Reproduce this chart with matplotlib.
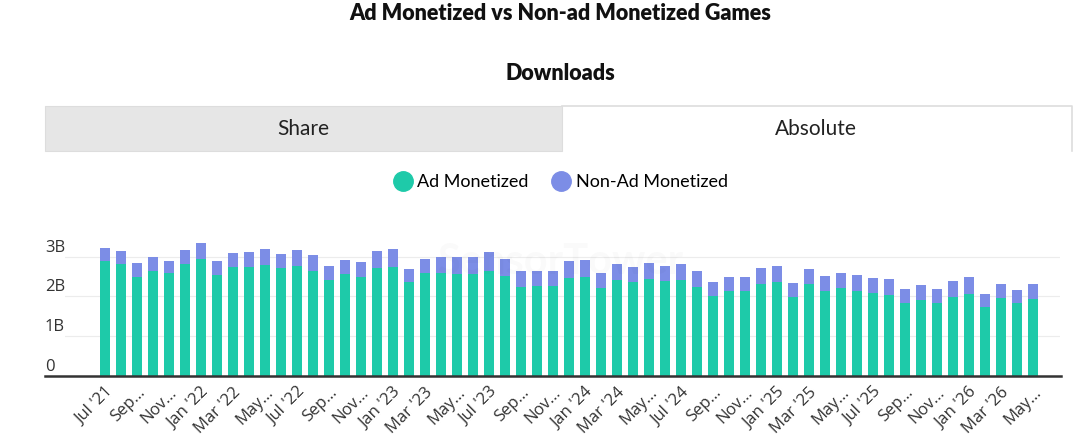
import matplotlib
matplotlib.use("Agg")
import matplotlib.pyplot as plt
from matplotlib.patches import Rectangle
from matplotlib.lines import Line2D
import numpy as np

# monthly downloads in billions, Jul '21 .. May '26
months = ["Jul '21", "Aug '21", "Sep '21", "Oct '21", "Nov '21", "Dec '21",
          "Jan '22", "Feb '22", "Mar '22", "Apr '22", "May '22", "Jun '22",
          "Jul '22", "Aug '22", "Sep '22", "Oct '22", "Nov '22", "Dec '22",
          "Jan '23", "Feb '23", "Mar '23", "Apr '23", "May '23", "Jun '23",
          "Jul '23", "Aug '23", "Sep '23", "Oct '23", "Nov '23", "Dec '23",
          "Jan '24", "Feb '24", "Mar '24", "Apr '24", "May '24", "Jun '24",
          "Jul '24", "Aug '24", "Sep '24", "Oct '24", "Nov '24", "Dec '24",
          "Jan '25", "Feb '25", "Mar '25", "Apr '25", "May '25", "Jun '25",
          "Jul '25", "Aug '25", "Sep '25", "Oct '25", "Nov '25", "Dec '25",
          "Jan '26", "Feb '26", "Mar '26", "Apr '26", "May '26"]

ad = [2.88, 2.81, 2.48, 2.65, 2.58, 2.81, 2.93, 2.53, 2.73, 2.73, 2.79, 2.71,
      2.77, 2.64, 2.40, 2.56, 2.48, 2.72, 2.73, 2.35, 2.58, 2.58, 2.56, 2.56,
      2.63, 2.52, 2.23, 2.27, 2.25, 2.46, 2.48, 2.21, 2.40, 2.35, 2.43, 2.38,
      2.42, 2.23, 2.02, 2.14, 2.14, 2.31, 2.35, 1.98, 2.31, 2.14, 2.21, 2.14,
      2.08, 2.04, 1.83, 1.92, 1.83, 1.98, 2.07, 1.73, 1.96, 1.83, 1.94]

total = [3.21, 3.14, 2.83, 3.00, 2.90, 3.17, 3.33, 2.88, 3.08, 3.12, 3.18, 3.07,
         3.17, 3.04, 2.77, 2.92, 2.86, 3.14, 3.18, 2.68, 2.93, 3.00, 2.98, 2.98,
         3.11, 2.94, 2.65, 2.65, 2.63, 2.90, 2.92, 2.60, 2.81, 2.73, 2.83, 2.77,
         2.81, 2.63, 2.36, 2.48, 2.50, 2.72, 2.77, 2.33, 2.68, 2.52, 2.60, 2.54,
         2.46, 2.43, 2.18, 2.28, 2.18, 2.38, 2.48, 2.07, 2.31, 2.15, 2.31]

non_ad = [round(t - a, 2) for t, a in zip(total, ad)]

yticks = [0, 1, 2, 3]
ytick_labels = ["0", "1B", "2B", "3B"]

green = "#1ecaa9"
purple = "#7c8de6"
W, H = 1080, 448

fig = plt.figure(figsize=(10.8, 4.48), dpi=100)
fig.patch.set_facecolor("white")

fig.text(560 / W, 1 - 14 / H, "Ad Monetized vs Non-ad Monetized Games", ha="center",
         va="center", fontsize=15.5, fontweight="heavy", family="Lato", color="#111111")
fig.text(560 / W, 1 - 74 / H, "Downloads", ha="center", va="center",
         fontsize=15.5, fontweight="heavy", family="Lato", color="#111111")

# tabs
fig.patches.append(Rectangle((45 / W, 1 - 151 / H), 517 / W, 45 / H,
                             transform=fig.transFigure, facecolor="#e6e6e6",
                             edgecolor="#dddddd", lw=0.8))
fig.add_artist(Line2D([562 / W, 1072 / W, 1072 / W], [1 - 106 / H, 1 - 106 / H, 1 - 151 / H],
                      transform=fig.transFigure, color="#dddddd", lw=1.2))
fig.text(303 / W, 1 - 129 / H, "Share", ha="center", va="center",
         fontsize=15, family="Lato", color="#222222")
fig.text(816 / W, 1 - 129 / H, "Absolute", ha="center", va="center",
         fontsize=15, family="Lato", color="#222222")

# plot area
x0, x1, ybase = 65, 1060, 376
ymax = 3.4
ppb = 39.8
ax = fig.add_axes([x0 / W, 1 - ybase / H, (x1 - x0) / W, ymax * ppb / H])
x = np.arange(len(months))
ax.bar(x, ad, width=0.62, color=green, zorder=3)
ax.bar(x, non_ad, bottom=ad, width=0.62, color=purple, zorder=3)
ax.set_xlim(-2.5, len(months) - 1 + 1.69)
ax.set_ylim(0, ymax)
for s in ax.spines.values():
    s.set_visible(False)
ax.set_yticks([])
for v in yticks[1:]:
    ax.axhline(v, color="#ececec", lw=0.8, zorder=1)
for v, lab in zip(yticks, ytick_labels):
    fig.text(45 / W, 1 - (ybase - v * ppb - 1) / H, lab, ha="left", va="bottom",
             fontsize=12, family="Open Sans", color="#333333")
fig.add_artist(Line2D([45 / W, 1061 / W], [1 - ybase / H, 1 - ybase / H],
                      transform=fig.transFigure, color="#333333", lw=1.8))

labels = []
for i, m in enumerate(months):
    mon = m.split()[0]
    if mon in ("Jan", "Mar", "Jul"):
        labels.append(m)
    else:
        labels.append(mon + "…")
ax.set_xticks(x[::2])
ax.set_xticklabels(labels[::2], rotation=45, ha="right", rotation_mode="anchor",
                   fontsize=12, family="Open Sans", color="#333333")
ax.tick_params(axis="x", length=0, pad=6)

# watermark
fig.text(560 / W, 1 - 262 / H, "SensorTower", ha="center", va="center",
         fontsize=30, color="#000000", alpha=0.02, family="Lato", fontweight="bold")

handles = [Line2D([], [], marker="o", ls="", color=green, markersize=14),
           Line2D([], [], marker="o", ls="", color=purple, markersize=14)]
fig.legend(handles, ["Ad Monetized", "Non-Ad Monetized"], loc="center",
           bbox_to_anchor=(560 / W, 1 - 182 / H), ncol=2, frameon=False,
           prop={"family": "Lato", "size": 13}, handletextpad=0.2, columnspacing=1.2,
           handlelength=1.2)

fig.savefig("out.png", dpi=100, facecolor="white")
